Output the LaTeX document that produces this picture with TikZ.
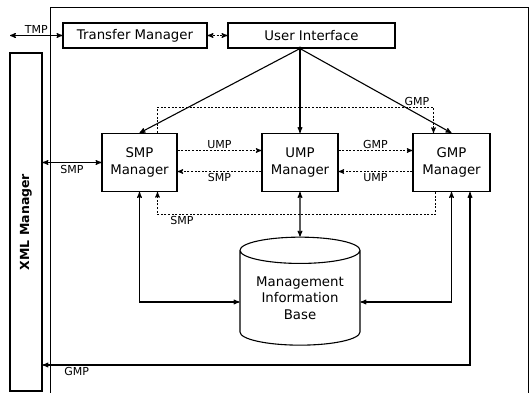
\documentclass[tikz,border=0pt]{standalone}
\usepackage{fontspec}
\setmainfont{DejaVu Sans}
\usetikzlibrary{arrows,shapes.geometric}

\begin{document}
\begin{tikzpicture}
	[x=1pt,y=-1pt,>=stealth',line width=1.1pt,
		box/.style={draw,rectangle,inner sep=0pt,align=center,font=\fontsize{13.3}{17}\selectfont},
		lbl/.style={font=\fontsize{11}{12}\selectfont,inner sep=1.5pt},
		msg/.style={->,line width=1pt,dash pattern=on 2pt off 1.6pt}]

	\useasboundingbox (0,0) rectangle (531,393);

	% outer frame
	\draw[line width=1pt] (50,393) -- (50,8) -- (528,8) -- (528,393);

	\node[box, minimum width=144pt, minimum height=25pt]  (tm)  at (135,35.5)   {Transfer Manager};
	\node[box, minimum width=167pt, minimum height=25pt]  (ui)  at (311.5,35.5) {User Interface};
	\node[box, minimum width=32pt,  minimum height=338pt] (xml) at (26,222)     {};
	\node[rotate=90, font=\bfseries\fontsize{12.5}{15}\selectfont] (xmltext) at (xml.center) {XML Manager};

	\node[box, minimum width=75pt, minimum height=58pt]  (smp) at (139.5,162.5) {SMP\\Manager};
	\node[box, minimum width=76pt, minimum height=58pt]  (ump) at (300,162.5)   {UMP\\Manager};
	\node[box, minimum width=77pt, minimum height=58pt]  (gmp) at (451.5,162.5) {GMP\\Manager};
	\node[draw, cylinder, shape border rotate=90, aspect=0.3, inner sep=0pt,
		minimum width=120pt, minimum height=108pt, align=center,
		font=\fontsize{13.3}{16.5}\selectfont] (mib) at (300,298) {Management\\Information\\Base};

	\coordinate (tmpout)  at (10,35.5);
	\coordinate (apex)    at (ui.south -| ump.north);
	\coordinate (smptop)  at ([xshift=18pt]smp.north);
	\coordinate (gmptop)  at ([xshift=-18pt]gmp.north);
	\coordinate (smpbot)  at ([xshift=18pt]smp.south);
	\coordinate (gmpbot)  at ([xshift=-16pt]gmp.south);
	\coordinate (gmpout)  at ([xshift=18.5pt]gmp.south);
	\coordinate (xmlin)   at (xml.east |- 0,365);

	% TMP and user interface links
	\draw[<->] (tmpout) -- node[lbl, above, pos=0.5] (ltmp) {TMP} (tm.west);
	\draw[<->, dash pattern=on 2pt off 1.6pt] (tm.east) -- (ui.west);
	\fill (apex) circle (2pt);
	\draw[->] (apex) -- (smp.north);
	\draw[->] (apex) -- (ump.north);
	\draw[->] (apex) -- (gmp.north);

	% messages between managers
	\draw[msg] (smptop) -- ++(0,-25.5) -| node[lbl, above, pos=0.47] (lgmpa) {GMP} (gmptop);
	\draw[msg] (gmpbot) -- ++(0,22.5) -| node[lbl, below, pos=0.456] (lsmpa) {SMP} (smpbot);
	\draw[msg] ([yshift=12pt]smp.east) -- node[lbl, above] (lump) {UMP} ([yshift=12pt]ump.west);
	\draw[msg] ([yshift=-9pt]ump.west) -- node[lbl, below] (lsmp) {SMP} ([yshift=-9pt]smp.east);
	\draw[msg] ([yshift=12pt]ump.east) -- node[lbl, above] (lgmp) {GMP} ([yshift=12pt]gmp.west);
	\draw[msg] ([yshift=-9pt]gmp.west) -- node[lbl, below] (lumpb) {UMP} ([yshift=-9pt]ump.east);

	% information base and XML manager
	\draw[<->] (ump.south) -- (mib.north);
	\draw[<->] (smp.south) |- ([yshift=-4pt]mib.west);
	\draw[<->] (gmp.south) |- ([yshift=-4pt]mib.east);
	\draw[<->] (smp.west -| xml.east) -- node[lbl, below, yshift=-1pt] (lsmpx) {SMP} (smp.west);
	\draw[<->] (gmpout) |- node[lbl, below, pos=0.96] (lgmpx) {GMP} (xmlin);

\end{tikzpicture}
\end{document}
